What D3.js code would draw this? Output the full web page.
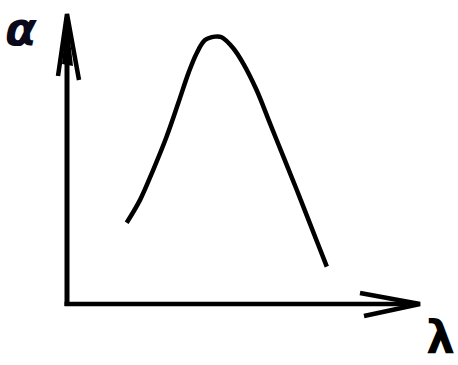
<!DOCTYPE html>
<html>
<head>
<meta charset="utf-8">
<script src="https://cdn.jsdelivr.net/npm/d3@7"></script>
<style>
  html, body { margin: 0; padding: 0; background: #fff; }
  svg { display: block; }
</style>
</head>
<body>
<svg></svg>
<script>
// curve, in axis units (0..100 on both axes)
var lambdaValues = [16.9, 20.7, 24.4, 28.2, 31.5, 34.4, 36.7, 39.1, 41.9, 43.8, 47.1, 49.9, 53.7, 57.5, 61.3, 65.1, 68.8, 73.6];
var alphaValues  = [28.0, 35.9, 46.2, 57.7, 69.2, 79.6, 86.4, 91.0, 92.2, 92.0, 88.2, 83.0, 73.8, 62.3, 50.8, 39.3, 27.8, 12.9];
var axisLabels = ['λ', 'α'];

function start() {
    var width = 458, height = 365;
    var svg = d3.select('svg')
        .attr('width', width)
        .attr('height', height);

    var x = d3.scaleLinear().domain([0, 100]).range([67, 420]);
    var y = d3.scaleLinear().domain([0, 100]).range([304, 14]);

    var g = svg.append('g')
        .attr('stroke', '#000')
        .attr('fill', 'none');

    // axes
    g.append('line')
        .attr('x1', x(0)).attr('y1', y(0) + 2)
        .attr('x2', x(0)).attr('y2', y(100) + 4)
        .attr('stroke-width', 5);
    g.append('line')
        .attr('x1', x(0) - 2.5).attr('y1', y(0))
        .attr('x2', x(100) - 4).attr('y2', y(0))
        .attr('stroke-width', 4.5);

    // arrow heads
    g.append('path')
        .attr('d', 'M' + (x(0) - 9) + ',' + (y(100) + 62) +
                   'L' + x(0) + ',' + y(100) +
                   'L' + (x(0) + 12) + ',' + (y(100) + 66))
        .attr('stroke-width', 4.5)
        .attr('stroke-linejoin', 'miter');
    g.append('path')
        .attr('d', 'M' + (x(0) - 5) + ',' + (y(100) + 50) +
                   'L' + x(0) + ',' + y(100) +
                   'L' + (x(0) + 6) + ',' + (y(100) + 52) + 'Z')
        .attr('fill', '#000')
        .attr('stroke', 'none');
    g.append('path')
        .attr('d', 'M' + (x(100) - 60) + ',' + (y(0) - 11) +
                   'L' + x(100) + ',' + y(0) +
                   'L' + (x(100) - 56) + ',' + (y(0) + 12))
        .attr('stroke-width', 4.5)
        .attr('stroke-linejoin', 'miter');

    // curve
    var line = d3.line()
        .x(function (d, i) { return x(lambdaValues[i]); })
        .y(function (d, i) { return y(alphaValues[i]); })
        .curve(d3.curveCatmullRom);
    g.append('path')
        .datum(lambdaValues)
        .attr('d', line)
        .attr('stroke-width', 4.5)
        .attr('stroke-linecap', 'butt');

    // axis labels
    svg.append('text')
        .attr('x', 455).attr('y', 353)
        .attr('text-anchor', 'end')
        .style('font', 'bold 46px "DejaVu Sans"')
        .text(axisLabels[0]);
    svg.append('text')
        .attr('x', 5).attr('y', 45)
        .style('font', 'italic bold 46px "DejaVu Sans"')
        .style('fill', '#0a0a1a')
        .text(axisLabels[1]);
}

start();
</script>
</body>
</html>
